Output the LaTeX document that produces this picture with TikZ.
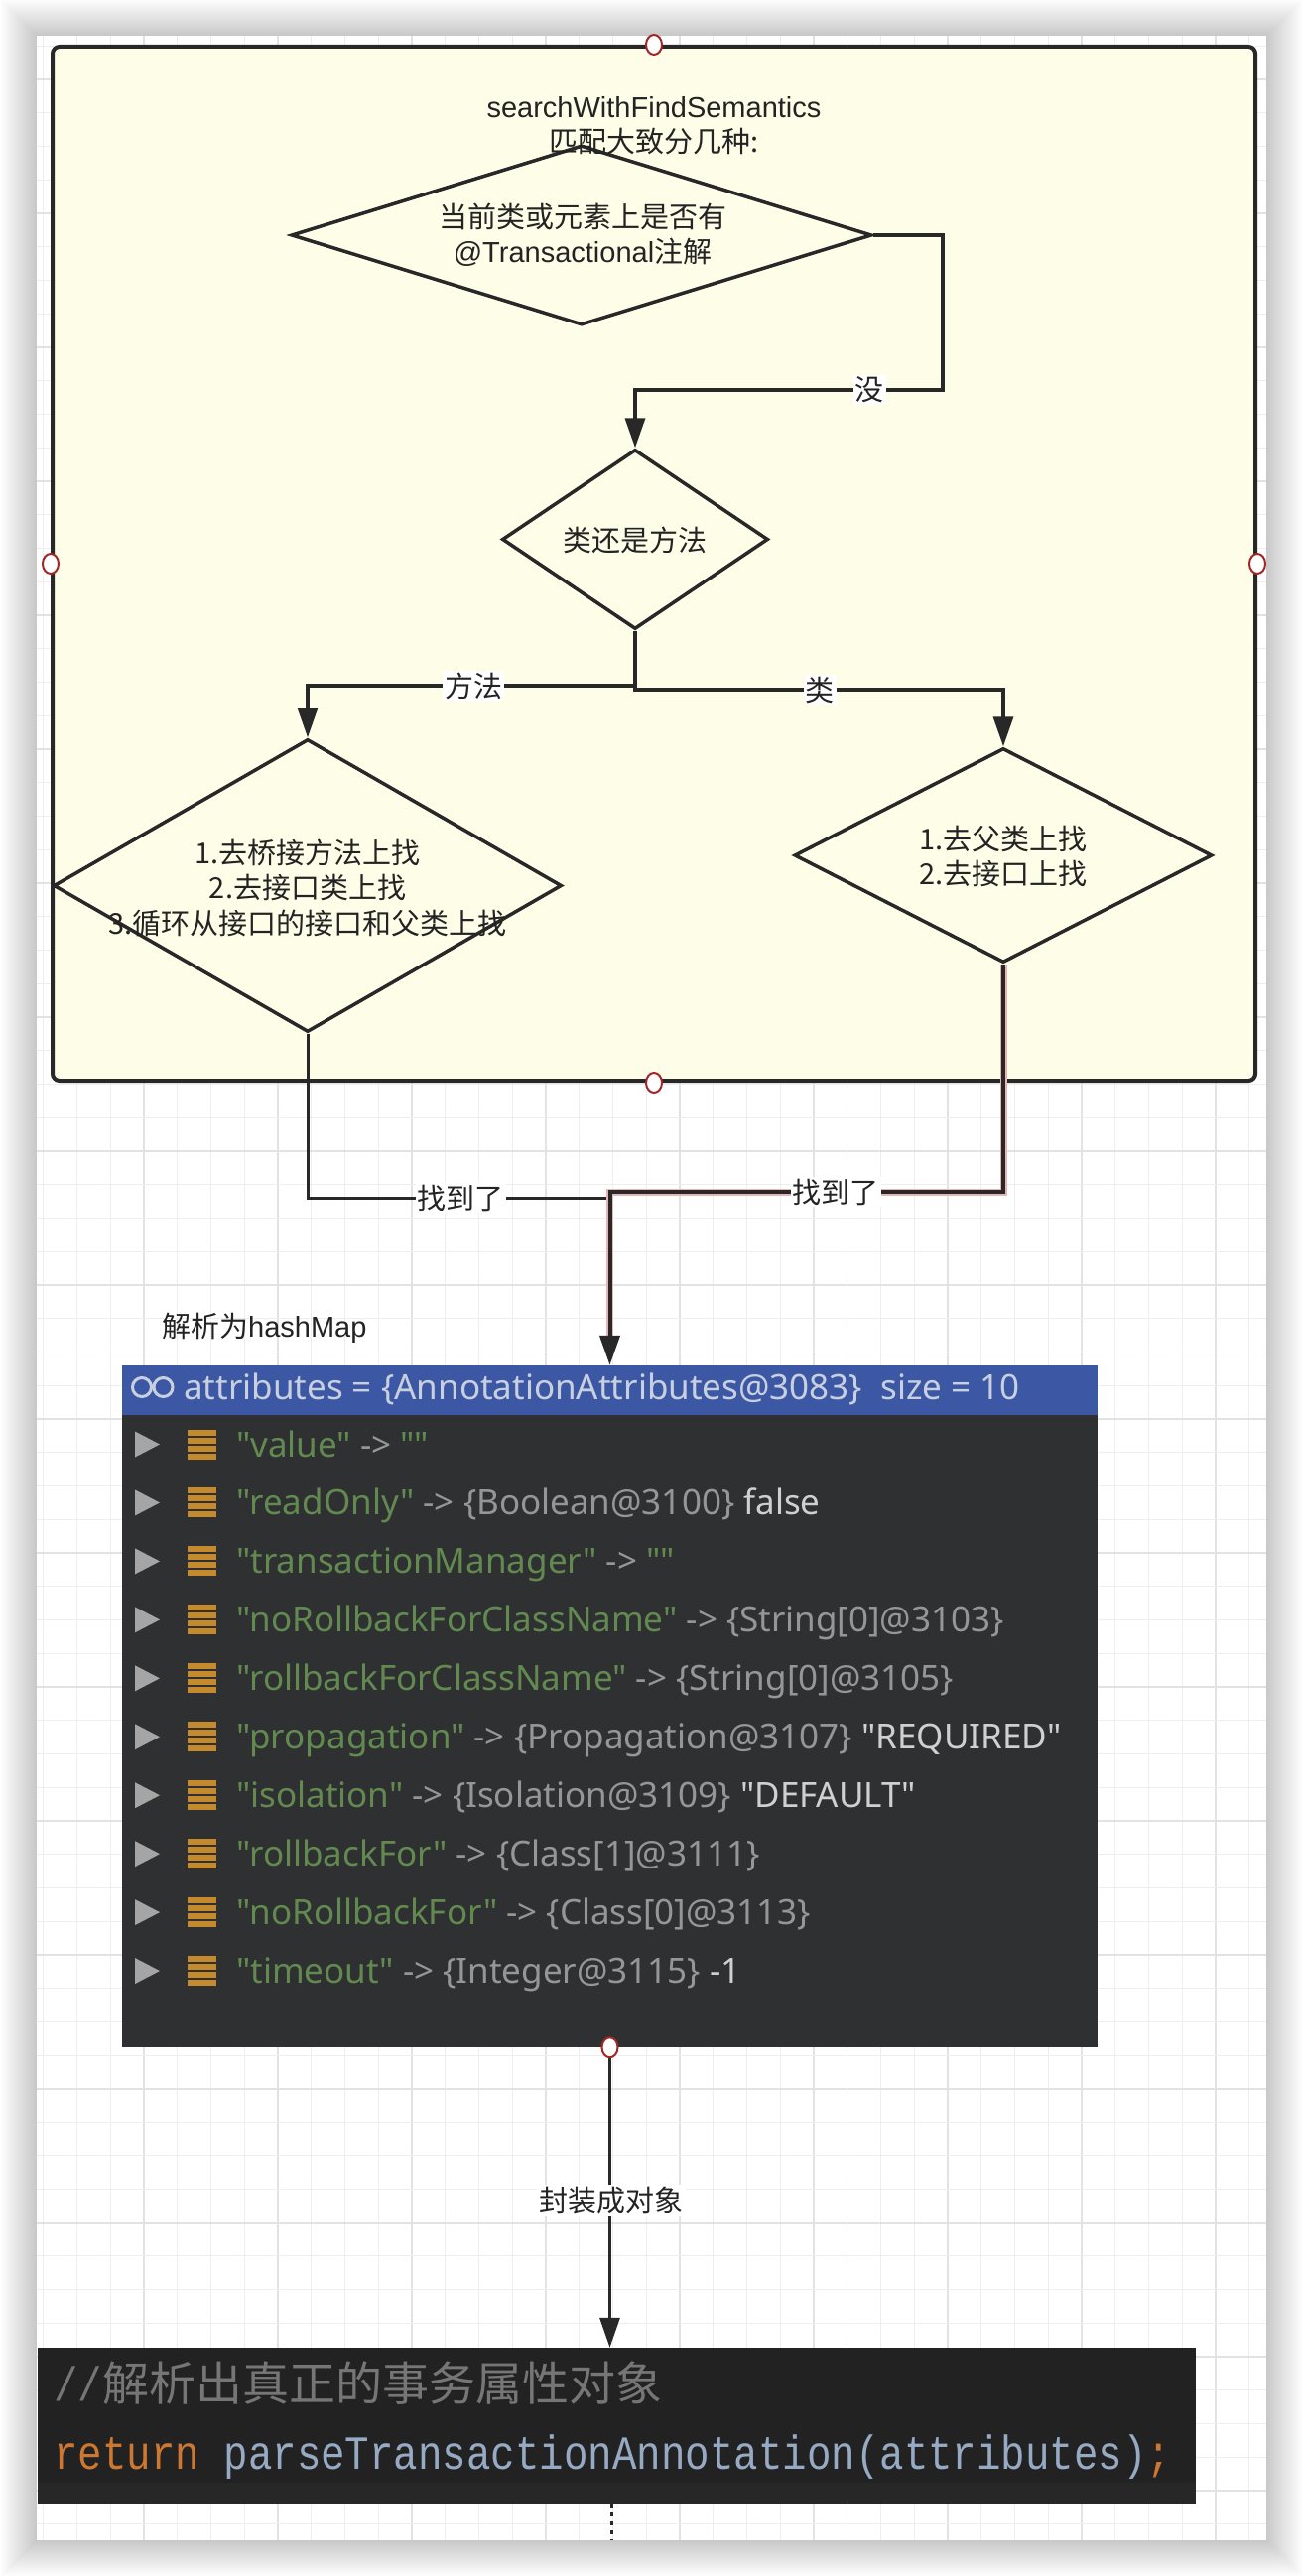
\documentclass[tikz,border=0pt]{standalone}
\usepackage{fontspec}
\setmainfont{Liberation Sans}
\newfontfamily\cjk{Noto Sans CJK SC}
\newfontfamily\rowfont{Noto Sans}
\newfontfamily\codefont{Liberation Mono}
\usetikzlibrary{shapes.geometric,arrows.meta,calc}

\definecolor{cardyellow}{RGB}{254,253,232}
\definecolor{lineblack}{RGB}{40,40,40}
\definecolor{textcol}{RGB}{35,35,35}
\definecolor{gridminc}{RGB}{238,238,238}
\definecolor{gridmajc}{RGB}{226,226,226}
\definecolor{hdrblue}{RGB}{60,88,164}
\definecolor{hdrtext}{RGB}{200,208,224}
\definecolor{rowbg}{RGB}{47,48,50}
\definecolor{keygreen}{RGB}{98,138,80}
\definecolor{typegray}{RGB}{150,150,150}
\definecolor{valwhite}{RGB}{208,208,208}
\definecolor{barorange}{RGB}{198,138,46}
\definecolor{tricol}{RGB}{165,165,165}
\definecolor{codebg}{RGB}{34,34,34}
\definecolor{codebg2}{RGB}{39,39,39}
\definecolor{codegray}{RGB}{118,118,118}
\definecolor{codeorange}{RGB}{204,120,50}
\definecolor{codeblue}{RGB}{150,170,195}
\definecolor{handlered}{RGB}{160,40,40}
\definecolor{halored}{RGB}{232,180,180}

\newcommand\setfs[2]{\fontsize{#1}{#2}\selectfont}
\newcommand\akey[1]{\textcolor{keygreen}{"#1"}}
\newcommand\atype[1]{\textcolor{typegray}{#1}}
\newcommand\aval[1]{\textcolor{valwhite}{#1}}

\tikzset{
 flow/.style={draw=lineblack, line width=3.5pt},
 arrowhd/.style={-{Triangle[length=30pt,width=20pt]}},
 thinflow/.style={draw=lineblack, line width=3pt},
 selflow/.style={draw=lineblack, line width=4pt},
 selhalo/.style={draw=halored, line width=7pt},
 dia/.style={diamond, draw=lineblack, line width=3.5pt, inner sep=0pt},
 txt/.style={align=center, text=textcol, font=\setfs{29}{35.5}},
 cjktxt/.style={align=center, text=textcol, font=\cjk\setfs{29}{35.5}},
 lbl/.style={fill=white, inner sep=2pt, text=textcol, font=\cjk\setfs{29}{35.5}},
 handle/.style={ellipse, draw=handlered, line width=2pt, fill=white, minimum width=16pt, minimum height=20pt, inner sep=0pt},
 gmin/.style={draw=gridminc, line width=1.2pt},
 gmaj/.style={draw=gridmajc, line width=2pt},
 container/.style={rectangle, rounded corners=7pt, draw=lineblack, line width=4pt, fill=cardyellow, inner sep=0pt},
 rowtext/.style={anchor=base west, inner sep=0pt, font=\rowfont\setfs{35}{40}},
}

\newcommand\attrrow[2]{%
  \pgfmathsetmacro\ry{1455.5+58.95*(#1-1)}%
  \fill[tricol] (136,\ry-13) -- (161,\ry) -- (136,\ry+13) -- cycle;
  \foreach \j in {0,1,2,3} {\fill[barorange] (189,\ry-15+8*\j) rectangle (218,\ry-15+8*\j+6);}
  \node[rowtext] (row#1) at (238,\ry+12.5) {#2};
}

\begin{document}
\begin{tikzpicture}[x=1pt,y=-1pt]
\useasboundingbox (0,0) rectangle (1312,2596);
\fill[white] (0,0) rectangle (1312,2596);
% shadow
\foreach \i in {1,...,18} {\fill[black,opacity=0.011] (37-2*\i,36-2*\i) rectangle (1276+2*\i,2560+2*\i);}
\fill[white] (37,36) rectangle (1276,2560);
% grid
\begin{scope}
\clip (37,36) rectangle (1276,2560);
\foreach \k in {1,...,37} {
  \pgfmathtruncatemacro{\m}{mod(\k,4)}
  \ifnum\m=0 \draw[gmaj] ({10+33.75*\k},36) -- ({10+33.75*\k},2560);
  \else \draw[gmin] ({10+33.75*\k},36) -- ({10+33.75*\k},2560); \fi
}
\foreach \k in {3,...,77} {
  \pgfmathtruncatemacro{\m}{mod(\k,4)}
  \ifnum\m=0 \draw[gmaj] (37,{-55+33.75*\k}) -- (1276,{-55+33.75*\k});
  \else \draw[gmin] (37,{-55+33.75*\k}) -- (1276,{-55+33.75*\k}); \fi
}
\end{scope}

% container
\node[container, minimum width=1212pt, minimum height=1042pt] (box) at (659,568) {};

% diamonds
\node[dia, minimum width=585pt, minimum height=181pt] (d1) at (586,237) {};
\node[dia, minimum width=268pt, minimum height=181pt] (d2) at (640,543.5) {};
\node[dia, minimum width=512pt, minimum height=295pt] (d3) at (310,892.5) {};
\node[dia, minimum width=421pt, minimum height=216pt] (d4) at (1011,862) {};

\node[txt] (title) at (659,126.5) {searchWithFindSemantics\\{\cjk 匹配大致分几种:}};
\node[txt] (d1t) at (587,236.5) {{\cjk 当前类或元素上是否有}\\@Transactional{\cjk 注解}};
\node[cjktxt] (d2t) at (640,544) {类还是方法};
\node[cjktxt] (d3t) at (310,894.5) {1.去桥接方法上找\\2.去接口类上找\\3.循环从接口的接口和父类上找};
\node[cjktxt] (d4t) at (1011,863) {1.去父类上找\\2.去接口上找};

% connectors
\coordinate (c1) at (950,393);
\coordinate (c2) at (310,691);
\coordinate (c3) at (1011,695);
\coordinate (c4) at (614.5,1207);
\coordinate (c5) at (614.5,1201);

\draw[flow, arrowhd] (d1.east) -| (c1) -| (d2.north);
\draw[flow, arrowhd] (d2.south) |- (c2) -- (d3.north);
\draw[flow, arrowhd] (d2.south) |- (c3) -- (d4.north);

% attributes box
\node[rectangle, fill=rowbg, inner sep=0pt, minimum width=983pt, minimum height=687pt] (attr) at (614.5,1719.5) {};
\node[rectangle, fill=hdrblue, inner sep=0pt, minimum width=983pt, minimum height=50pt, anchor=north west] (hdr) at (attr.north west) {};

\draw[thinflow] (d3.south) |- (c4);
\draw[selhalo, shorten >=30pt] (d4.south) |- (c5) -- (attr.north);
\draw[selflow, arrowhd] (d4.south) |- (c5) -- (attr.north);

\node[lbl] (l1) at (876,393) {没};
\node[lbl] (l2) at (477,691) {方法};
\node[lbl] (l3) at (826,695) {类};
\node[lbl] (l4) at (464,1207) {找到了};
\node[lbl] (l5) at (842,1201) {找到了};

% handles
\node[handle] (h1) at (box.north) {};
\node[handle] (h2) at (box.west) {};
\node[handle] (h3) at (box.east) {};
\node[handle] (h4) at (box.south) {};

\node[anchor=west, inner sep=0pt, text=textcol, font=\setfs{29}{35}] (hm) at (163,1338) {{\cjk 解析为}hashMap};

% header
\draw[hdrtext, line width=3pt] (143,1398) circle (9.5pt) (164.5,1398) circle (9.5pt);
\node[rowtext, text=hdrtext] (hdrt) at (185,1410) {attributes = \{AnnotationAttributes@3083\}\ \ size = 10};

\attrrow{1}{\akey{value} \atype{->} \textcolor{keygreen}{""}}
\attrrow{2}{\akey{readOnly} \atype{-> \{Boolean@3100\}} \aval{false}}
\attrrow{3}{\akey{transactionManager} \atype{->} \textcolor{keygreen}{""}}
\attrrow{4}{\akey{noRollbackForClassName} \atype{-> \{String[0]@3103\}}}
\attrrow{5}{\akey{rollbackForClassName} \atype{-> \{String[0]@3105\}}}
\attrrow{6}{\akey{propagation} \atype{-> \{Propagation@3107\}} \aval{"REQUIRED"}}
\attrrow{7}{\akey{isolation} \atype{-> \{Isolation@3109\}} \aval{"DEFAULT"}}
\attrrow{8}{\akey{rollbackFor} \atype{-> \{Class[1]@3111\}}}
\attrrow{9}{\akey{noRollbackFor} \atype{-> \{Class[0]@3113\}}}
\attrrow{10}{\akey{timeout} \atype{-> \{Integer@3115\}} \aval{-1}}

% code box
\node[rectangle, fill=codebg, inner sep=0pt, minimum width=1167pt, minimum height=157pt] (code) at (621.5,2444.5) {};
\fill[codebg2] (38,2502) rectangle (1205,2523);
\draw[thinflow, arrowhd] (attr.south) -- (attr.south |- code.north);
\node[lbl] (l6) at (616,2217) {封装成对象};
\node[handle] (h5) at (attr.south) {};

\node[anchor=base west, inner sep=0pt] (cmt) at (54,2419) {\scalebox{0.85}[1]{\codefont\setfs{48}{50}\textcolor{codegray}{//}}\textcolor{codegray}{\cjk\setfs{47}{50}解析出真正的事务属性对象}};
\node[anchor=base west, inner sep=0pt] (ret) at (54,2488) {\scalebox{0.85}[1]{\codefont\setfs{48}{50}\textcolor{codeorange}{return} \textcolor{codeblue}{parseTransactionAnnotation(attributes)}\textcolor{codeorange}{;}}};

\coordinate (cardbot) at (616,2560);
\draw[lineblack, line width=3pt, dash pattern=on 4pt off 5pt] (616,2523) -- (cardbot);
\end{tikzpicture}
\end{document}
